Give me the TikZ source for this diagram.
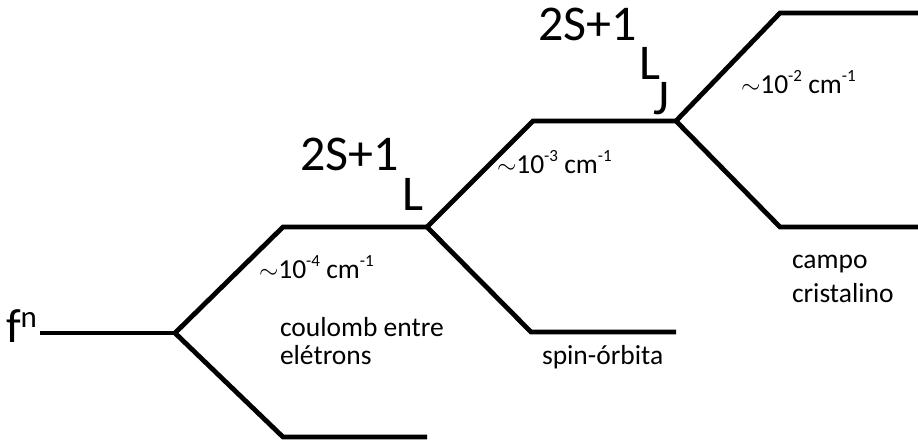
\documentclass[tikz,border=0pt]{standalone}
\usepackage{fontspec}
\setmainfont{Carlito}
\newcommand{\lbltxt}{\fontsize{27.5}{31}\selectfont}
\newcommand{\bigtxt}{\fontsize{50}{56}\selectfont}
\newcommand{\supstxt}[1]{\raisebox{0.42em}{\fontsize{17}{19}\selectfont #1}}
\begin{document}
\begin{tikzpicture}[x=1pt,y=-1pt,
  level/.style={line width=4.8pt,line join=miter},
  txt/.style={anchor=base west,inner sep=0pt,outer sep=0pt}]
\useasboundingbox (0,0) rectangle (918,445);
% coordinates
\coordinate (f0) at (40,333);
\coordinate (b1) at (175,333);
\coordinate (u1a) at (283,227); \coordinate (u1b) at (427,227);
\coordinate (d1a) at (283,437); \coordinate (d1b) at (427,437);
\coordinate (b2) at (427,227);
\coordinate (u2a) at (533,121); \coordinate (u2b) at (676,121);
\coordinate (d2a) at (531,332); \coordinate (d2b) at (676,332);
\coordinate (b3) at (676,121);
\coordinate (u3a) at (780,13); \coordinate (u3b) at (918,13);
\coordinate (d3a) at (780,227); \coordinate (d3b) at (918,227);
% levels
\draw[level] (f0) -- (b1);
\draw[level] (b1) -- (u1a) -- (u1b);
\draw[level] (b1) -- (d1a) -- (d1b);
\draw[level] (b2) -- (u2a) -- (u2b);
\draw[level] (b2) -- (d2a) -- (d2b);
\draw[level] (b3) -- (u3a) -- (u3b);
\draw[level] (b3) -- (d3a) -- (d3b);
% texts
\node[txt] (fn) at (6,342) {\fontsize{48}{52}\selectfont f\raisebox{0.3em}{\fontsize{31}{34}\selectfont n}};
\node[txt] (s1) at (300,170) {\bigtxt 2S+1};
\node[txt] (l1) at (402,210) {\bigtxt L};
\node[txt] (s2) at (538,40) {\bigtxt 2S+1};
\node[txt] (l2) at (639,79) {\bigtxt \rlap{L}\hspace{14pt}\raisebox{-35pt}{J}};
\node[txt] (e1) at (259,278) {\lbltxt $\sim$10\supstxt{-4} cm\supstxt{-1}};
\node[txt] (e2) at (497,173) {\lbltxt $\sim$10\supstxt{-3} cm\supstxt{-1}};
\node[txt] (e3) at (741,93) {\lbltxt $\sim$10\supstxt{-2} cm\supstxt{-1}};
\node[txt] (c1) at (280,336) {\lbltxt coulomb entre};
\node[txt] (c2) at (280,364) {\lbltxt elétrons};
\node[txt] (so) at (542,364) {\lbltxt spin-órbita};
\node[txt] (cc1) at (792,268) {\lbltxt campo};
\node[txt] (cc2) at (792,302) {\lbltxt cristalino};
\end{tikzpicture}
\end{document}
